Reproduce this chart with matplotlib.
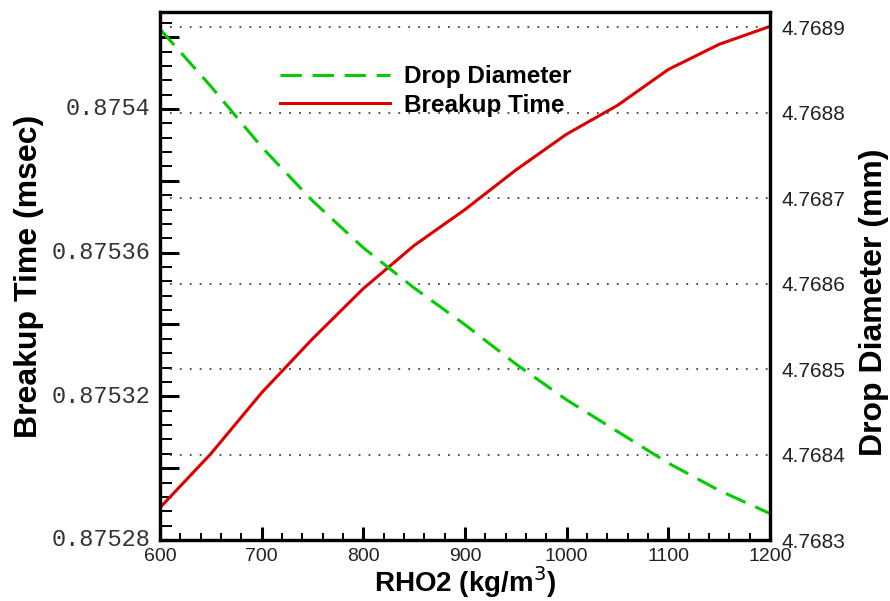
import numpy as np
import matplotlib
matplotlib.use("Agg")
import matplotlib.pyplot as plt
from matplotlib.ticker import MultipleLocator, FixedLocator, NullFormatter
from matplotlib.lines import Line2D

# values
rho2 = [600, 650, 700, 750, 800, 850, 900, 950, 1000, 1050, 1100, 1150, 1200]
breakup_time = [0.875289, 0.875304, 0.875321, 0.875336, 0.875350, 0.875362, 0.875372,
                0.875383, 0.875393, 0.875401, 0.875411, 0.875418, 0.875423]
drop_diameter = [4.768898, 4.768831, 4.768760, 4.768697, 4.768642, 4.768595, 4.768552,
                 4.768506, 4.768464, 4.768427, 4.768390, 4.768358, 4.768331]

left_labels = [0.87528, 0.87532, 0.87536, 0.87540]
left_label_text = ["0.87528", "0.87532", "0.87536", "0.8754"]
right_ticks = [4.7683, 4.7684, 4.7685, 4.7686, 4.7687, 4.7688, 4.7689]

fig = plt.figure(figsize=(8.9, 6.01), dpi=100)
ax = fig.add_axes([160 / 890, 1 - 540 / 601, 610 / 890, 528 / 601])
ax2 = ax.twinx()

red = "#dd0000"
green = "#00cc00"
ax.plot(rho2, breakup_time, color=red, lw=2.2, solid_capstyle="butt")
ax2.plot(rho2, drop_diameter, color=green, lw=2.2, dashes=(7, 3.5))

ylo, yhi = 0.87528, 0.875427
ax.set_xlim(600, 1200)
ax.set_ylim(ylo, yhi)
ax2.set_ylim(4.7683, 4.768918)

# left axis: ticks every 0.00002, labels written by hand like the original
ax.yaxis.set_major_locator(MultipleLocator(0.00002))
ax.yaxis.set_minor_locator(MultipleLocator(0.000004))
ax.yaxis.set_major_formatter(NullFormatter())
ax.tick_params(axis="y", which="major", direction="in", length=14, width=2.2,
               right=False, labelleft=False)
ax.tick_params(axis="y", which="minor", direction="in", length=8.5, width=1.4, right=False)
for v, t in zip(left_labels, left_label_text):
    ax.text(-0.015, (v - ylo) / (yhi - ylo), t, transform=ax.transAxes,
            ha="right", va="center", fontsize=17, family="Liberation Mono", color="#333333")

# bottom axis
ax.xaxis.set_major_locator(MultipleLocator(100))
ax.xaxis.set_minor_locator(MultipleLocator(20))
ax.tick_params(axis="x", which="major", direction="in", length=9.5, width=2.2, top=False,
               pad=6, labelsize=14, labelcolor="#222222")
ax.tick_params(axis="x", which="minor", direction="in", length=5, width=1.4, top=False)
for lab in ax.get_xticklabels():
    lab.set_family("Liberation Sans")

# right axis
ax2.yaxis.set_major_locator(FixedLocator(right_ticks))
ax2.yaxis.set_minor_locator(FixedLocator([]))
ax2.set_yticklabels([f"{v:.4f}" for v in right_ticks])
ax2.tick_params(axis="y", length=0, pad=8, labelsize=15, labelcolor="#222222")
for lab in ax2.get_yticklabels():
    lab.set_family("Liberation Sans")
ax2.grid(axis="y", color="#444444", linestyle=(0, (1, 4.5)), linewidth=1.3)

for a in (ax, ax2):
    for s in a.spines.values():
        s.set_linewidth(2.3)
        s.set_color("black")

ax.set_xlabel("RHO2 (kg/m$^{3}$)", fontsize=20, fontweight="bold", family="Liberation Sans")
ax.xaxis.set_label_coords(0.5, -0.045)
ax.set_ylabel("Breakup Time (msec)", fontsize=23, fontweight="bold", family="Liberation Sans")
ax.yaxis.set_label_coords(-0.19, 0.5)
ax2.set_ylabel("Drop Diameter (mm)", fontsize=23, fontweight="bold", family="Liberation Sans")
ax2.yaxis.set_label_coords(1.146, 0.45)

handles = [Line2D([], [], color=green, lw=2.2, dashes=(7, 3.5)),
           Line2D([], [], color=red, lw=2.2)]
ax2.legend(handles, ["Drop Diameter", "Breakup Time"], loc="upper left",
           bbox_to_anchor=(0.197, 0.899), frameon=False, borderpad=0, borderaxespad=0,
           handlelength=4.5, handletextpad=0.6, labelspacing=0.23,
           prop={"family": "Liberation Sans", "weight": "bold", "size": 17.5})

fig.savefig("out.png", dpi=100)
